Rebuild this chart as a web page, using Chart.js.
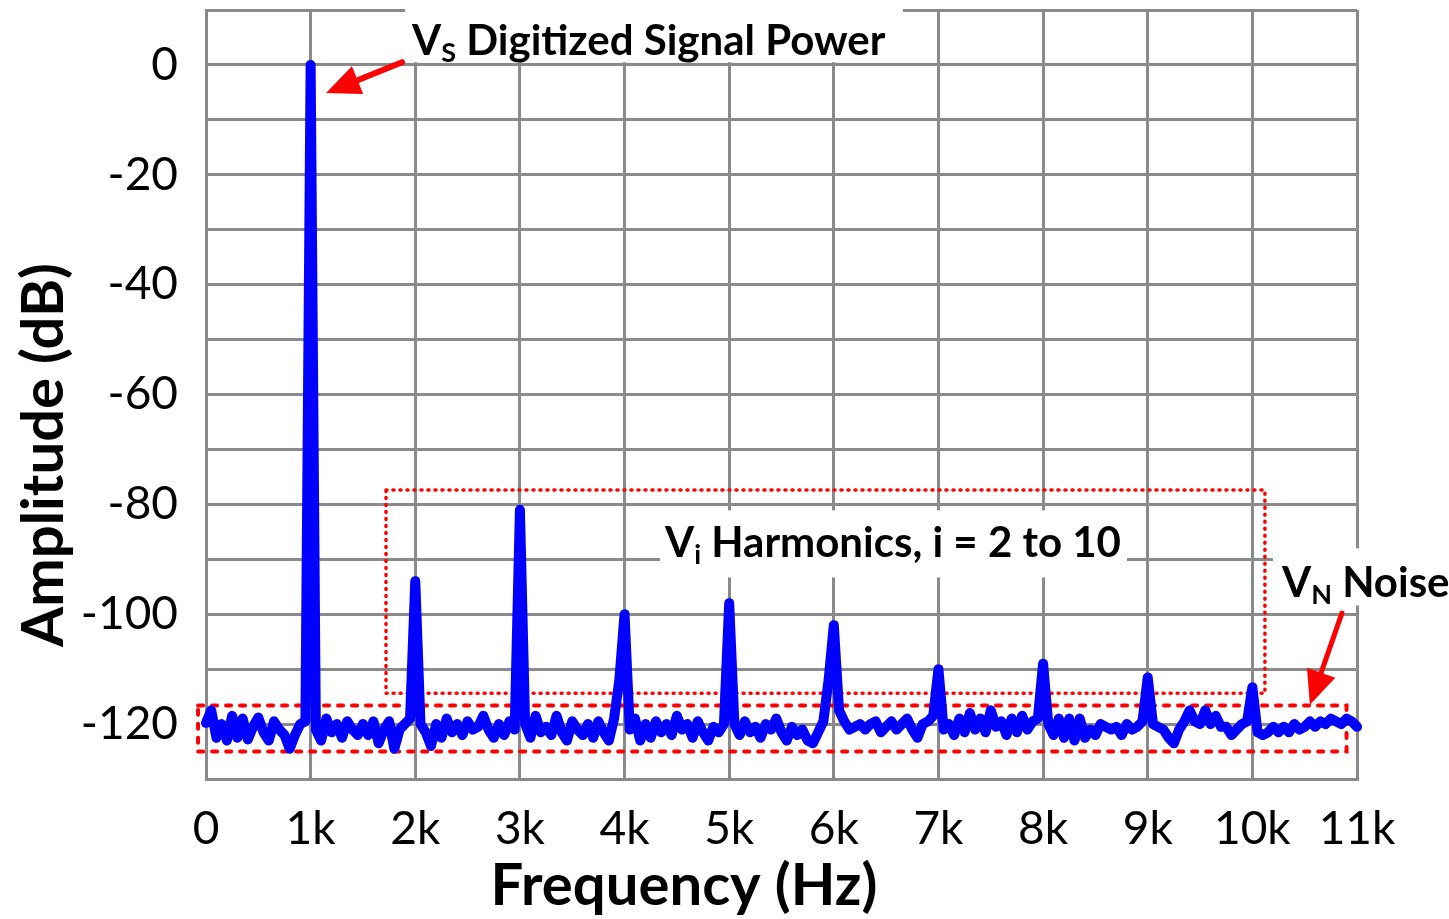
<!DOCTYPE html>
<html>
<head>
<meta charset="utf-8">
<script src="https://cdn.jsdelivr.net/npm/chart.js@4"></script>
<style>
  html, body { margin: 0; padding: 0; background: #fff; }
  #wrap { width: 1449px; height: 919px; }
</style>
</head>
<body>
<div id="wrap"><canvas id="myChart" width="1449" height="919"></canvas></div>
<script>
// spectrum bins are 50 Hz apart, 0 .. 11 kHz
const binHz = 50;
const amplitudeDb = [
  -119.8, -117.5, -122.5, -120, -123, -118.5, -122.5, -119, -122.8, -120.5, -118.8, -121.5, -123, -119.5, -121, -122, -124.5, -122, -120, -119.5,
  0, -121, -123, -119, -121.5, -120, -122.5, -119.5, -121, -122, -120, -122, -119.5, -123.5, -121, -119.5, -124.5, -121, -120, -119,
  -94, -120, -121.5, -124, -120, -122.5, -119, -121.5, -120, -122, -119.5, -121, -120.5, -118.5, -121, -122.5, -120, -122, -119.5, -121,
  -81, -120, -122.5, -118.5, -121.5, -120.5, -122, -118.5, -121.5, -123, -119.5, -121, -122, -120, -122.5, -119.5, -121.5, -123, -119, -112,
  -100, -121, -119, -123, -120, -122.5, -119.5, -121.5, -120, -122, -118.5, -121, -120, -122.5, -119.5, -121.5, -123, -120.5, -121.5, -120,
  -98, -120, -122, -119.5, -121.5, -120.5, -122.5, -120, -121, -119, -121.5, -123, -120.5, -122, -121, -123, -123.5, -121.5, -119.5, -112,
  -102, -117.5, -119.5, -121, -120.5, -120, -121, -120, -119.5, -121.5, -120.5, -119.5, -121, -120, -119, -121, -122.5, -120, -119.5, -118.5,
  -110, -121, -120, -122, -119, -121.5, -118, -121, -119, -121.5, -117.5, -120.5, -119.5, -122, -119, -121.5, -118.5, -121, -119.5, -119,
  -109, -120, -122, -119, -122.5, -119, -123, -119, -122.5, -121, -122, -120, -120.5, -121, -120.5, -122, -120, -121, -120.5, -119.5,
  -111.5, -120, -120.5, -121, -122.5, -123.5, -121, -119.5, -117.5, -119.5, -120, -117.5, -120, -118.5, -120.5, -120.5, -122, -121, -120, -119.5,
  -113.3, -121.5, -122, -121.5, -120.5, -121.5, -120.5, -121.5, -120, -121, -120.5, -119.5, -120.5, -119.5, -120, -119, -119.5, -120, -119, -119.5,
  -120.5
];
const freqTicks = ['0', '1k', '2k', '3k', '4k', '5k', '6k', '7k', '8k', '9k', '10k', '11k'];
const ampTicks = [0, -20, -40, -60, -80, -100, -120];

const GRID = '#8a8a8a';

// annotation layer, in data units
const boxes = [
  { x0: 1720, x1: 10120, y0: -77.4, y1: -114.4, dash: [1, 6], lw: 3.5 },
  { x0: -76, x1: 10900, y0: -116.6, y1: -125, dash: [5, 9], lw: 4 }
];
const arrows = [
  { x0: 1873, y0: 0.5, x1: 1147, y1: -5.1, lw: 6 },
  { x0: 10856, y0: -99.8, x1: 10550, y1: -116.5, lw: 5 }
];
const notes = [
  { x: 1969, y: 1.8, main: 'V', sub: 'S', rest: ' Digitized Signal Power', box: [1902, 6661, 11.5, 0.5] },
  { x: 4387, y: -89.6, main: 'V', sub: 'i', rest: ' Harmonics, i = 2 to 10', box: [4339, 8802, -81.1, -93.3] },
  { x: 10283, y: -96.9, main: 'V', sub: 'N', rest: ' Noise', box: [10197, 11900, -88, -98.4] }
];

function drawArrow(ctx, x1, y1, x2, y2, lw) {
  const head = 34, half = 15;
  const a = Math.atan2(y2 - y1, x2 - x1);
  const bx = x2 - head * Math.cos(a), by = y2 - head * Math.sin(a);
  ctx.strokeStyle = 'red';
  ctx.fillStyle = 'red';
  ctx.lineWidth = lw;
  ctx.lineCap = 'round';
  ctx.setLineDash([]);
  ctx.beginPath();
  ctx.moveTo(x1, y1);
  ctx.lineTo(bx + 2 * Math.cos(a), by + 2 * Math.sin(a));
  ctx.stroke();
  ctx.beginPath();
  ctx.moveTo(x2, y2);
  ctx.lineTo(bx + half * Math.sin(a), by - half * Math.cos(a));
  ctx.lineTo(bx - half * Math.sin(a), by + half * Math.cos(a));
  ctx.closePath();
  ctx.fill();
}

const annotate = {
  id: 'annotate',
  beforeDatasetsDraw(chart) {
    const { ctx, scales: { x, y } } = chart;
    ctx.save();
    boxes.forEach(b => {
      const l = x.getPixelForValue(b.x0), r = x.getPixelForValue(b.x1);
      const t = y.getPixelForValue(b.y0), bt = y.getPixelForValue(b.y1);
      ctx.strokeStyle = 'red';
      ctx.lineWidth = b.lw;
      ctx.setLineDash(b.dash);
      ctx.lineCap = 'round';
      ctx.strokeRect(l, t, r - l, bt - t);
    });
    ctx.restore();
  },
  afterDraw(chart) {
    const { ctx, scales: { x, y } } = chart;
    ctx.save();
    arrows.forEach(a => drawArrow(ctx,
      x.getPixelForValue(a.x0), y.getPixelForValue(a.y0),
      x.getPixelForValue(a.x1), y.getPixelForValue(a.y1), a.lw));

    notes.forEach(n => {
      const l = x.getPixelForValue(n.box[0]), r = x.getPixelForValue(n.box[1]);
      const t = y.getPixelForValue(n.box[2]), b = y.getPixelForValue(n.box[3]);
      ctx.fillStyle = '#fff';
      ctx.fillRect(l, t, r - l, b - t);
      let px = x.getPixelForValue(n.x);
      const py = y.getPixelForValue(n.y);
      ctx.fillStyle = '#000';
      ctx.textBaseline = 'alphabetic';
      ctx.textAlign = 'left';
      ctx.font = 'bold 42px Lato';
      ctx.fillText(n.main, px, py);
      px += ctx.measureText(n.main).width;
      ctx.font = 'bold 27px Lato';
      ctx.fillText(n.sub, px, py + 7);
      px += ctx.measureText(n.sub).width;
      ctx.font = 'bold 42px Lato';
      ctx.fillText(n.rest, px, py);
    });

    // axis titles
    ctx.fillStyle = '#000';
    ctx.font = 'bold 58px Lato';
    ctx.textAlign = 'center';
    ctx.textBaseline = 'middle';
    ctx.fillText('Frequency (Hz)', 684, 886);
    ctx.translate(44, 455);
    ctx.rotate(-Math.PI / 2);
    ctx.fillText('Amplitude (dB)', 0, 0);
    ctx.restore();
  }
};

const ctx = document.getElementById('myChart').getContext('2d');
new Chart(ctx, {
  type: 'line',
  data: {
    datasets: [{
      data: amplitudeDb.map((db, i) => ({ x: i * binHz, y: db })),
      borderColor: '#0000ff',
      borderWidth: 10,
      borderJoinStyle: 'round',
      borderCapStyle: 'round',
      pointRadius: 0,
      tension: 0,
      clip: false
    }]
  },
  options: {
    responsive: false,
    animation: false,
    layout: { padding: { left: 0, top: 10, right: 92, bottom: 0 } },
    plugins: { legend: { display: false }, tooltip: { enabled: false } },
    scales: {
      x: {
        type: 'linear',
        min: 0,
        max: 11000,
        afterFit: s => { s.height = 140; s.paddingLeft = 0; s.paddingRight = 0; },
        grid: { color: GRID, lineWidth: 3, drawTicks: false },
        border: { color: GRID, width: 3 },
        ticks: {
          stepSize: 1000,
          autoSkip: false,
          maxRotation: 0,
          padding: 23,
          color: '#000',
          font: { family: 'Lato', size: 46 },
          callback: v => freqTicks[Math.round(v / 1000)]
        }
      },
      y: {
        min: -130,
        max: 10,
        afterFit: s => { s.width = 206; s.paddingTop = 0; s.paddingBottom = 0; },
        grid: { color: GRID, lineWidth: 3, drawTicks: false },
        border: { color: GRID, width: 3 },
        ticks: {
          stepSize: 10,
          autoSkip: false,
          padding: 28,
          color: '#000',
          font: { family: 'Lato', size: 46 },
          callback: v => ampTicks.includes(v) ? String(v) : ''
        }
      }
    }
  },
  plugins: [annotate]
});
</script>
</body>
</html>
